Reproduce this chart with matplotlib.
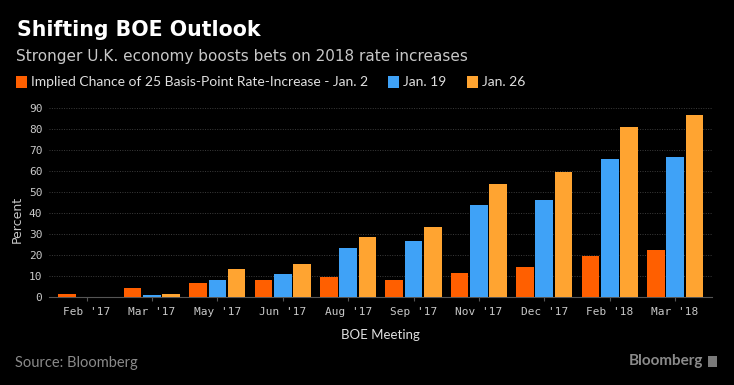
import matplotlib
matplotlib.use("Agg")
import matplotlib.pyplot as plt
from matplotlib.patches import Rectangle
import numpy as np

categories = ["Feb '17", "Mar '17", "May '17", "Jun '17", "Aug '17",
              "Sep '17", "Nov '17", "Dec '17", "Feb '18", "Mar '18"]
jan2 = [1.4, 4.6, 6.7, 8.1, 9.5, 8.2, 11.6, 14.4, 19.8, 22.4]
jan19 = [0.3, 1.2, 8.2, 11.2, 23.3, 26.8, 43.8, 46.3, 65.7, 67.0]
jan26 = [0.3, 1.5, 13.3, 16.0, 28.7, 33.3, 54.0, 59.5, 81.0, 86.7]
series_names = ["Implied Chance of 25 Basis-Point Rate-Increase - Jan. 2", "Jan. 19", "Jan. 26"]
yticks = [0, 10, 20, 30, 40, 50, 60, 70, 80, 90]

colors = ["#FF5F00", "#3FA2F7", "#FFA431"]
W, H = 734, 385
fig = plt.figure(figsize=(W / 100, H / 100), dpi=100, facecolor="black")

def fx(px): return px / W
def fy(py): return 1 - py / H

ax = fig.add_axes([fx(49.3), fy(297.3), fx(711.7) - fx(49.3), fy(100) - fy(297.3)])
ax.set_facecolor("black")
x = np.arange(len(categories))
width = 0.27
step = 0.295
for i, (vals, c) in enumerate(zip([jan2, jan19, jan26], colors)):
    ax.bar(x + (i - 1) * step, vals, width=width, color=c, zorder=3)

ax.set_xlim(-0.57, 9.56)
ax.set_ylim(0, 94)
ax.set_yticks(yticks)
ax.set_xticks(x)
ax.set_xticklabels(categories, family="DejaVu Sans Mono", fontsize=8, color="#c8c8c8")
ax.set_yticklabels([str(v) for v in yticks], family="DejaVu Sans Mono", fontsize=8, color="#c8c8c8")
ax.tick_params(axis="x", length=3, color="#555555", pad=4)
ax.tick_params(axis="y", length=0, pad=5)
for s in ["top", "right", "left"]:
    ax.spines[s].set_visible(False)
ax.spines["bottom"].set_color("#555555")
ax.grid(axis="y", color="#3c3c3c", linestyle=(0, (1, 1.5)), linewidth=0.7, zorder=0)

fig.text(fx(17), fy(30), "Shifting BOE Outlook", fontsize=14.8, fontweight="bold",
         color="white", va="center", ha="left")
fig.text(fx(16), fy(56), "Stronger U.K. economy boosts bets on 2018 rate increases",
         fontsize=11, color="#c8c8c8", va="center", ha="left")

# legend
leg_x = [16, 388, 467]
for name, c, lx in zip(series_names, colors, leg_x):
    fig.patches.append(Rectangle((fx(lx), fy(88)), fx(11), 12 / H,
                                 transform=fig.transFigure, facecolor=c, edgecolor="none"))
    fig.text(fx(lx + 15), fy(82), name, fontsize=10, color="#e0e0e0", va="center", ha="left",
             family=["Lato", "DejaVu Sans"])

fig.text(fx(17), fy(219), "Percent", rotation=90, fontsize=9, color="#c8c8c8",
         va="center", ha="center")
fig.text(fx(380), fy(335), "BOE Meeting", fontsize=9.5, color="#e0e0e0",
         va="center", ha="center", family=["Lato", "DejaVu Sans"])
fig.text(fx(15), fy(363), "Source: Bloomberg", fontsize=10.5, color="#8a8a8a",
         va="center", ha="left", family=["Lato", "DejaVu Sans"])
fig.text(fx(703), fy(361), "Bloomberg", fontsize=11, color="#8a8a8a", fontweight="bold",
         va="center", ha="right", family=["Lato", "DejaVu Sans"])
fig.patches.append(Rectangle((fx(708), fy(367)), fx(9), 11 / H,
                             transform=fig.transFigure, facecolor="#7a7a7a", edgecolor="none"))

fig.savefig("out.png", dpi=100, facecolor="black")
